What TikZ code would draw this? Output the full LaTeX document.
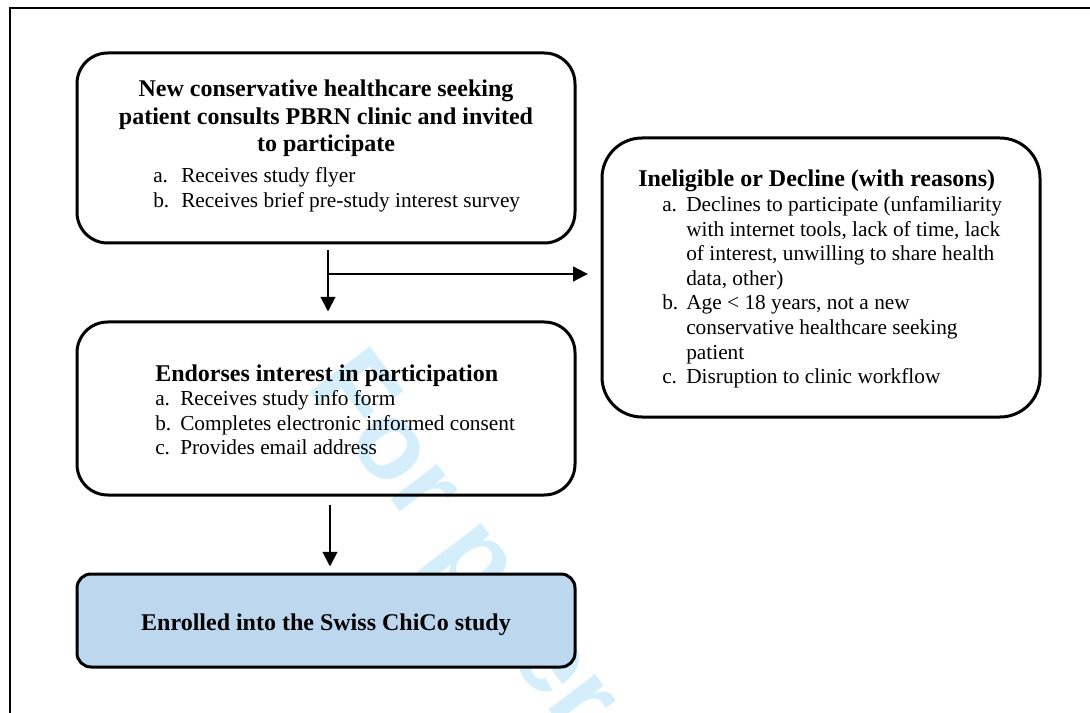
\documentclass[tikz,border=0pt]{standalone}
\usepackage{fontspec}
\setmainfont{Liberation Serif}
\newfontfamily\wmfont{Liberation Sans}
\usetikzlibrary{arrows.meta}
\definecolor{wmblue}{RGB}{212,238,251}
\definecolor{enrollfill}{RGB}{189,215,238}
\tikzset{
  box/.style={draw=black, line width=2.25pt, inner sep=0pt},
  arr/.style={line width=1.5pt, -{Triangle[length=11pt,width=11pt]}},
  hd/.style={inner sep=0pt, font=\fontsize{18}{21}\selectfont\bfseries},
  bd/.style={inner sep=0pt, font=\fontsize{16}{18.4}\selectfont},
}
\begin{document}
\begin{tikzpicture}[x=0.75pt,y=-0.75pt]
\useasboundingbox (0,0) rectangle (1090,713);
\clip (0,0) rectangle (1090,713);
% watermark
\node[anchor=base west, inner sep=0pt, rotate=-53, text=wmblue,
      font=\wmfont\bfseries\fontsize{82.5}{82.5}\selectfont] (wm) at (305,386) {For peer review};
% frame
\draw[line width=1.8pt] (10,713) -- (10,8) -- (1090,8);
% boxes
\node[box, rounded corners=23pt, minimum width=373.5pt, minimum height=142.5pt] (b1) at (326,148) {};
\node[box, rounded corners=23pt, minimum width=373.5pt, minimum height=129.75pt] (b2) at (326,408.5) {};
\node[box, rounded corners=10.5pt, minimum width=373.5pt, minimum height=69.75pt, fill=enrollfill] (b3) at (326,620.5) {};
\node[box, rounded corners=30pt, minimum width=328.5pt, minimum height=209.25pt] (b4) at (821,277.5) {};
% box 1 text
\node[hd, anchor=base] (t1a) at (326,97) {New conservative healthcare seeking};
\node[hd, anchor=base] (t1b) at (326,124.5) {patient consults PBRN clinic and invited};
\node[hd, anchor=base] (t1c) at (326,152) {to participate};
\node[bd, anchor=base west] (l1a) at (153,183) {a.};
\node[bd, anchor=base west] (i1a) at (181,183) {Receives study flyer};
\node[bd, anchor=base west] (l1b) at (153,207.5) {b.};
\node[bd, anchor=base west] (i1b) at (181,207.5) {Receives brief pre-study interest survey};
% box 2 text
\node[hd, anchor=base west] (t2) at (155,381) {Endorses interest in participation};
\node[bd, anchor=base west] (l2a) at (155,405.5) {a.};
\node[bd, anchor=base west] (i2a) at (180,405.5) {Receives study info form};
\node[bd, anchor=base west] (l2b) at (155,430) {b.};
\node[bd, anchor=base west] (i2b) at (180,430) {Completes electronic informed consent};
\node[bd, anchor=base west] (l2c) at (155,454.5) {c.};
\node[bd, anchor=base west] (i2c) at (180,454.5) {Provides email address};
% box 3 text
\node[hd, anchor=base] (t3) at (326,630) {Enrolled into the Swiss ChiCo study};
% box 4 text
\node[hd, anchor=base west] (t4) at (638,187) {Ineligible or Decline (with reasons)};
\node[bd, anchor=base west] (l4a) at (662,212) {a.};
\node[bd, anchor=base west] (i4a1) at (686,212) {Declines to participate (unfamiliarity};
\node[bd, anchor=base west] (i4a2) at (686,236.5) {with internet tools, lack of time, lack};
\node[bd, anchor=base west] (i4a3) at (686,261) {of interest, unwilling to share health};
\node[bd, anchor=base west] (i4a4) at (686,285.5) {data, other)};
\node[bd, anchor=base west] (l4b) at (662,310) {b.};
\node[bd, anchor=base west] (i4b1) at (686,310) {Age < 18 years, not a new};
\node[bd, anchor=base west] (i4b2) at (686,334.5) {conservative healthcare seeking};
\node[bd, anchor=base west] (i4b3) at (686,359) {patient};
\node[bd, anchor=base west] (l4c) at (662,383.5) {c.};
\node[bd, anchor=base west] (i4c) at (686,383.5) {Disruption to clinic workflow};
% connectors
\coordinate (s1) at ([xshift=1.5pt,yshift=-4.5pt]b1.south);
\coordinate (j1) at (328,274);
\draw[arr] (s1) -- ([xshift=1.5pt,yshift=6.75pt]b2.north);
\draw[arr, shorten >=9.5pt] (j1) -- (j1 -| b4.west);
\draw[arr] ([xshift=3pt,yshift=-6pt]b2.south) -- ([xshift=3pt,yshift=4.5pt]b3.north);
\end{tikzpicture}
\end{document}
